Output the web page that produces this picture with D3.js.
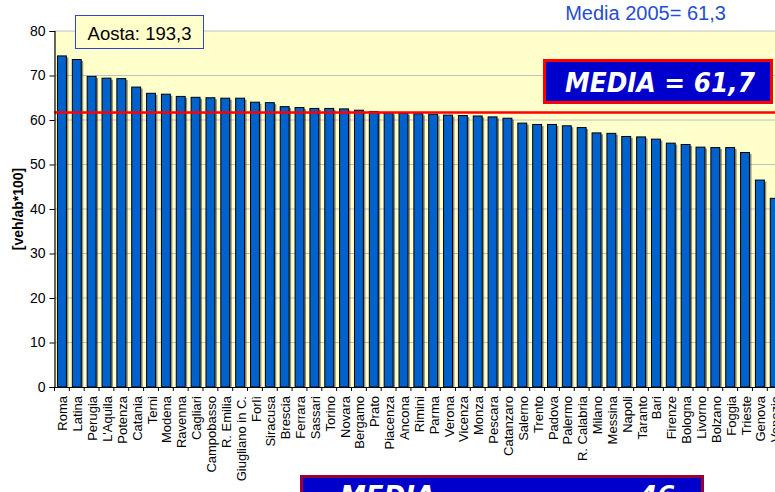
<!DOCTYPE html>
<html><head><meta charset="utf-8">
<script src="https://cdn.jsdelivr.net/npm/d3@7/dist/d3.min.js"></script>
<style>body{margin:0;background:#fff;overflow:hidden}svg{display:block}</style>
</head><body>
<script>
const categories = ["Roma","Latina","Perugia","L'Aquila","Potenza","Catania","Terni","Modena","Ravenna","Cagliari","Campobasso","R. Emilia","Giugliano in C.","Forlì","Siracusa","Brescia","Ferrara","Sassari","Torino","Novara","Bergamo","Prato","Piacenza","Ancona","Rimini","Parma","Verona","Vicenza","Monza","Pescara","Catanzaro","Salerno","Trento","Padova","Palermo","R. Calabria","Milano","Messina","Napoli","Taranto","Bari","Firenze","Bologna","Livorno","Bolzano","Foggia","Trieste","Genova","Venezia"];
const values = [74.4,73.6,69.8,69.4,69.3,67.4,66.0,65.8,65.3,65.1,65.0,64.9,64.9,64.0,63.9,63.0,62.8,62.6,62.6,62.5,62.2,61.9,61.6,61.5,61.4,61.3,61.1,61.0,60.9,60.7,60.4,59.3,59.0,59.0,58.7,58.3,57.1,57.0,56.3,56.2,55.7,54.8,54.5,53.9,53.8,53.8,52.7,46.5,42.4];
const yTicks = [0,10,20,30,40,50,60,70,80];
const mediaValue = 61.7;
const yTitle = "[veh/ab*100]";
const aostaLabel = "Aosta: 193,3";
const media2005Label = "Media 2005= 61,3";
const mediaLabel = "MEDIA = 61,7";

(function () {
const W = 775, H = 492;
const pLeft = 54.5, pTop = 31, pBottom = 387;
const step = 14.85;
const pRight = pLeft + step * categories.length;

const svg = d3.select("body").append("svg").attr("width", W).attr("height", H);

const x = d3.scaleBand().domain(categories).range([pLeft, pRight]).paddingInner(0.4).paddingOuter(0.2);
const y = d3.scaleLinear().domain([0, 80]).range([pBottom, pTop]);

svg.append("rect").attr("x", pLeft).attr("y", pTop).attr("width", pRight - pLeft).attr("height", pBottom - pTop).attr("fill", "#FFFFCC");

svg.append("g").selectAll("line").data(yTicks.filter(d => d > 0)).join("line")
  .attr("x1", pLeft).attr("x2", pRight).attr("y1", d => y(d)).attr("y2", d => y(d))
  .attr("stroke", "#c0c0c0").attr("stroke-width", 1);

svg.append("g").selectAll("rect").data(values).join("rect")
  .attr("x", (d, i) => x(categories[i]) + 2)
  .attr("y", d => y(d) + 1.5)
  .attr("width", x.bandwidth())
  .attr("height", d => pBottom - y(d) - 1.5)
  .attr("fill", "#333").attr("opacity", 0.55);

svg.append("g").selectAll("rect").data(values).join("rect")
  .attr("x", (d, i) => x(categories[i]))
  .attr("y", d => y(d))
  .attr("width", x.bandwidth())
  .attr("height", d => pBottom - y(d))
  .attr("fill", "#0062CC").attr("stroke", "#000").attr("stroke-width", 1);

svg.append("line").attr("x1", pLeft).attr("x2", pRight).attr("y1", y(mediaValue)).attr("y2", y(mediaValue))
  .attr("stroke", "#FF0000").attr("stroke-width", 2.5);

const yAxis = d3.axisLeft(y).tickValues(yTicks).tickSize(5).tickPadding(4).tickFormat(d3.format("d"));
const gy = svg.append("g").attr("transform", `translate(${pLeft},0)`).call(yAxis);
gy.select(".domain").attr("stroke", "#000").attr("stroke-width", 1.2);
gy.selectAll(".tick line").attr("stroke", "#000");
gy.selectAll("text").attr("font-family", "Liberation Sans, Arial, sans-serif").attr("font-size", 14).attr("fill", "#000");

const gx = svg.append("g").attr("transform", `translate(0,${pBottom})`).call(d3.axisBottom(x).tickSize(0).tickFormat(""));
gx.select(".domain").attr("stroke", "#000").attr("stroke-width", 1.2);
svg.append("g").selectAll("line").data(d3.range(categories.length + 1)).join("line")
  .attr("x1", i => pLeft + i * x.step()).attr("x2", i => pLeft + i * x.step())
  .attr("y1", pBottom).attr("y2", pBottom + 4).attr("stroke", "#000");

svg.append("g").selectAll("text").data(categories).join("text")
  .attr("transform", d => `translate(${x(d) + x.bandwidth() / 2 + 1},${pBottom + 9}) rotate(-90)`)
  .attr("text-anchor", "end").attr("dy", "0.35em")
  .attr("font-family", "Liberation Sans, Arial, sans-serif").attr("font-size", 13).attr("fill", "#000")
  .text(d => d);

svg.append("text").attr("transform", "translate(18,209) rotate(-90)")
  .attr("text-anchor", "middle").attr("dy", "0.35em").attr("font-family", "Liberation Sans, Arial, sans-serif")
  .attr("font-size", 14).attr("font-weight", "bold").text(yTitle);

svg.append("rect").attr("x", 75.5).attr("y", 15.5).attr("width", 128).attr("height", 33)
  .attr("fill", "#FFFFCC").attr("stroke", "#3344CC").attr("stroke-width", 1);
svg.append("text").attr("x", 139.5).attr("y", 39.5).attr("text-anchor", "middle")
  .attr("font-family", "Liberation Sans, Arial, sans-serif").attr("font-size", 18.5).attr("fill", "#000")
  .text(aostaLabel);

svg.append("text").attr("x", 645.5).attr("y", 20).attr("text-anchor", "middle")
  .attr("font-family", "Liberation Sans, Arial, sans-serif").attr("font-size", 20).attr("fill", "#1F4FD0")
  .text(media2005Label);

svg.append("rect").attr("x", 544.5).attr("y", 60.5).attr("width", 227).attr("height", 42)
  .attr("fill", "#0000CC").attr("stroke", "#FF0000").attr("stroke-width", 3);
svg.append("text").attr("x", 565).attr("y", 92)
  .attr("font-family", "DejaVu Sans, Verdana, sans-serif").attr("font-size", 26)
  .attr("font-weight", "bold").attr("font-style", "italic").attr("fill", "#fff")
  .attr("textLength", 190).attr("lengthAdjust", "spacingAndGlyphs")
  .text(mediaLabel);

svg.append("rect").attr("x", 301.5).attr("y", 476.5).attr("width", 401).attr("height", 40)
  .attr("fill", "#0000CC").attr("stroke", "#990033").attr("stroke-width", 3);
svg.append("text").attr("x", 340).attr("y", 505)
  .attr("font-family", "DejaVu Sans, Verdana, sans-serif").attr("font-size", 26)
  .attr("font-weight", "bold").attr("font-style", "italic").attr("fill", "#fff").text("MEDIA");
svg.append("text").attr("x", 675).attr("y", 505).attr("text-anchor", "end")
  .attr("font-family", "DejaVu Sans, Verdana, sans-serif").attr("font-size", 26)
  .attr("font-weight", "bold").attr("font-style", "italic").attr("fill", "#fff").text("= 46");
})();
</script>
</body></html>
